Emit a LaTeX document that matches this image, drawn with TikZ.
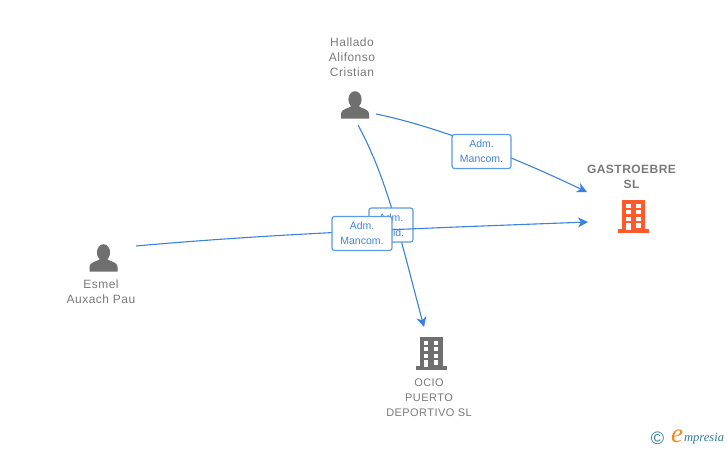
\documentclass[tikz,border=0pt]{standalone}
\usepackage{fontspec}
\setmainfont{Liberation Sans}
\newfontfamily\spaced[LetterSpace=4]{Liberation Sans}
\newfontfamily\logofont{Liberation Serif}
\usetikzlibrary{arrows.meta}
\definecolor{linkblue}{HTML}{3B82E0}
\definecolor{boxblue}{HTML}{5B9BE6}
\definecolor{textblue}{HTML}{3F86DC}
\definecolor{icongray}{HTML}{6F6F6F}
\definecolor{labelgray}{HTML}{7A7A7A}
\definecolor{orangeb}{HTML}{FF5A2B}
\definecolor{teal1}{HTML}{2F7D95}
\definecolor{orange1}{HTML}{F08A1D}
\tikzset{
  x=1pt,y=-1pt,
  link/.style={draw=linkblue,line width=1.1pt,-{Stealth[length=10pt,width=10pt,inset=3pt]}},
  rolebox/.style={draw=boxblue,line width=1.2pt,fill=white,rounded corners=2.5pt,text=textblue,
    font=\fontsize{10.5}{15}\selectfont,align=center,inner sep=0pt,minimum height=34pt},
  namelabel/.style={text=labelgray,font=\spaced\fontsize{12}{15}\selectfont,align=center,inner sep=0pt},
  companylabel/.style={text=labelgray,font=\spaced\fontsize{11}{15}\selectfont,align=center,inner sep=0pt},
  person/.pic={
    \fill[icongray] (0,-5.5) ellipse (6.6 and 8.3);
    \fill[icongray] (-14,13.5) -- (-14,8.5) .. controls (-14,4) and (-6,3.5) .. (-3.5,1) -- (3.5,1)
       .. controls (6,3.5) and (14,4) .. (14,8.5) -- (14,13.5) -- cycle;
  },
  building/.pic={
    \fill[pic actions] (-11.5,-15.5) rectangle (11.5,15);
    \fill[pic actions] (-15.5,14) rectangle (15.5,17.5);
    \foreach \yy in {-11.5,-4.9,1.7}{
      \fill[white] (-7.5,\yy) rectangle (-2.9,\yy+4.3);
      \fill[white] (2.6,\yy) rectangle (7.2,\yy+4.3);
    }
    \fill[white] (-7.5,8.3) rectangle (-2.9,15);
    \fill[white] (2.6,8.3) rectangle (7.2,12.6);
  }
}
\begin{document}
\begin{tikzpicture}
\useasboundingbox (0,0) rectangle (728,450);
\fill[white] (0,0) rectangle (728,450);

% icons
\pic at (355,105) {person};
\pic at (103.5,258) {person};
\pic[fill=icongray] at (431,352) {building};
\pic[fill=orangeb] at (633.5,215) {building};

% labels
\node[namelabel] (hallado) at (352,57) {Hallado\\Alifonso\\Cristian};
\node[namelabel] (esmel) at (101,292) {Esmel\\Auxach Pau};
\node[companylabel] (ocio) at (429,397.5) {OCIO\\PUERTO\\DEPORTIVO SL};
\node[companylabel,font=\bfseries\spaced\fontsize{12}{15}\selectfont] (gastro) at (631.5,177) {GASTROEBRE\\SL};

% connector ends
\coordinate (hstartA) at (376,114);
\coordinate (hstartB) at (358,125);
\coordinate (estart) at (136,246);
\coordinate (gendA) at (587,192);
\coordinate (gendB) at (588,222);
\coordinate (oend) at (424,327);

% Hallado to Ocio, under the role boxes
\draw[link] (hstartB) .. controls (388,180) and (402,245) .. (oend);

% hidden role box
\node[rolebox,minimum width=44pt] (roleB) at (391,225) {Adm.\\Solid.};

% Esmel to Gastroebre, over the hidden box
\draw[link] (estart) .. controls (280,233) and (430,228) .. (gendB);

% Hallado to Gastroebre
\draw[link] (hstartA) .. controls (440,127) and (520,160) .. (gendA);

% top role boxes
\node[rolebox,minimum width=59pt] (roleA) at (481.5,151.5) {Adm.\\Mancom.};
\node[rolebox,minimum width=60pt] (roleC) at (362,233.5) {Adm.\\Mancom.};

% logo
\node[text=teal1,font=\fontsize{18}{18}\selectfont,inner sep=0pt] (copy) at (657.5,438.5) {©};
\node[text=orange1,font=\logofont\itshape\fontsize{27}{27}\selectfont,inner sep=0pt] (logoe) at (677,436) {e};
\node[text=teal1,font=\logofont\itshape\fontsize{12.5}{12.5}\selectfont,inner sep=0pt,anchor=west] (logot) at (684,438.5) {mpresia};
\end{tikzpicture}
\end{document}
